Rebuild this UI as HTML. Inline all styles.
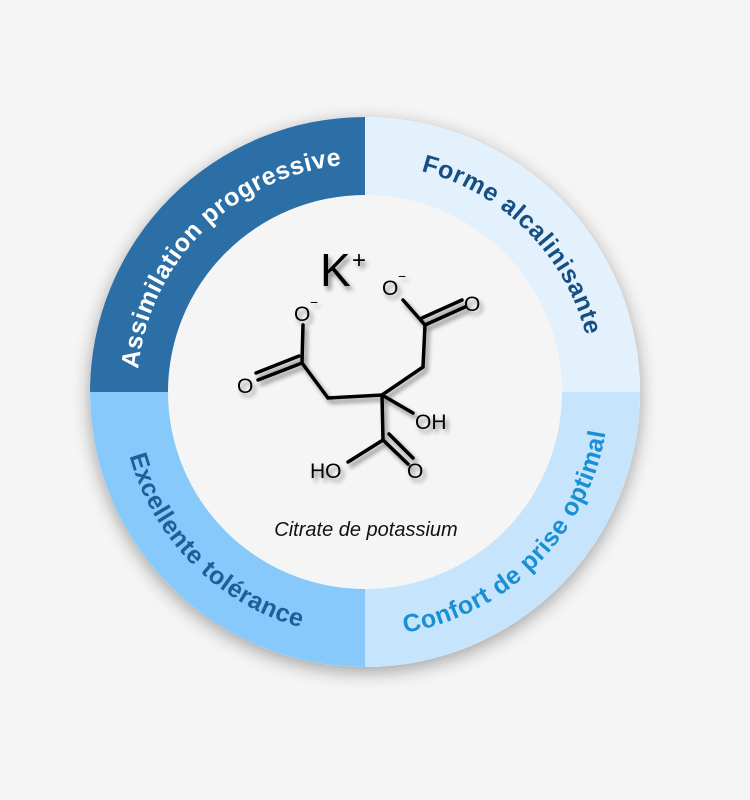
<!DOCTYPE html>
<html><head><meta charset="utf-8"><style>
html,body{margin:0;padding:0;background:#f5f5f5;}
svg{display:block;}
</style></head><body>
<svg width="750" height="800" viewBox="0 0 750 800" xmlns="http://www.w3.org/2000/svg">
<defs>
<filter id="sh" x="-20%" y="-20%" width="140%" height="140%"><feGaussianBlur in="SourceAlpha" stdDeviation="9"/><feOffset dx="0" dy="5"/><feComponentTransfer><feFuncA type="linear" slope="0.35"/></feComponentTransfer><feMerge><feMergeNode/><feMergeNode in="SourceGraphic"/></feMerge></filter>
<filter id="ms" x="-20%" y="-20%" width="140%" height="140%"><feGaussianBlur in="SourceAlpha" stdDeviation="2.5"/><feOffset dx="3" dy="4"/><feComponentTransfer><feFuncA type="linear" slope="0.45"/></feComponentTransfer><feMerge><feMergeNode/><feMergeNode in="SourceGraphic"/></feMerge></filter>
<clipPath id="cc"><circle cx="365" cy="392" r="275"/></clipPath>
<path id="p1" d="M137,392 A228,228 0 0 1 365,164"/>
<path id="p2" d="M365,164 A228,228 0 0 1 593,392"/>
<path id="p3" d="M121,392 A244,244 0 0 0 365,636"/>
<path id="p4" d="M365,636 A244,244 0 0 0 609,392"/>
</defs>
<circle cx="365" cy="392" r="275" fill="#fff" filter="url(#sh)"/>
<g clip-path="url(#cc)">
<rect x="90" y="117" width="275" height="275" fill="#2b6fa6"/>
<rect x="365" y="117" width="275" height="275" fill="#e3f1fd"/>
<rect x="90" y="392" width="275" height="275" fill="#86c9fa"/>
<rect x="365" y="392" width="275" height="275" fill="#c6e5fc"/>
</g>
<circle cx="365" cy="392" r="197" fill="#f5f5f5"/>
<g font-family="Liberation Sans, sans-serif" font-weight="bold" font-size="25" letter-spacing="0.6">
<text fill="#ffffff" text-anchor="middle"><textPath href="#p1" startOffset="50%">Assimilation progressive</textPath></text>
<text fill="#174f82" text-anchor="middle"><textPath href="#p2" startOffset="50%">Forme alcalinisante</textPath></text>
<text fill="#1f5f99" text-anchor="middle"><textPath href="#p3" startOffset="50%">Excellente tolérance</textPath></text>
<text fill="#1a8fd4" text-anchor="middle"><textPath href="#p4" startOffset="50%">Confort de prise optimal</textPath></text>
</g>
<g filter="url(#ms)">
<g stroke="#000" stroke-width="3.5" fill="none" stroke-linecap="round">
<polyline points="413,413 382,395 328,398 302,363 303,325"/>
<line x1="302" y1="363" x2="258" y2="380"/><line x1="299" y1="356" x2="256" y2="373"/>
<polyline points="382,395 423,367 425,325 403,300"/>
<line x1="425" y1="325" x2="465" y2="307"/><line x1="422" y1="318" x2="462" y2="300"/>
<polyline points="382,395 383,440 348,462"/>
<line x1="383" y1="440" x2="408" y2="464"/><line x1="389" y1="434" x2="413" y2="458"/>
</g>
<g font-family="Liberation Sans, sans-serif" font-size="21" fill="#000">
<text x="294" y="321">O</text><text x="310" y="307" font-size="14">−</text>
<text x="382" y="295">O</text><text x="398" y="281" font-size="14">−</text>
<text x="464" y="311">O</text>
<text x="237" y="393">O</text>
<text x="415" y="429">OH</text>
<text x="310" y="478">HO</text>
<text x="407" y="478">O</text>
<text x="320" y="286" font-size="46">K</text><text x="352" y="268" font-size="24">+</text>
</g>
</g>
<text x="366" y="536" text-anchor="middle" font-family="Liberation Sans, sans-serif" font-style="italic" font-size="20" fill="#111">Citrate de potassium</text>
</svg>
</body></html>
